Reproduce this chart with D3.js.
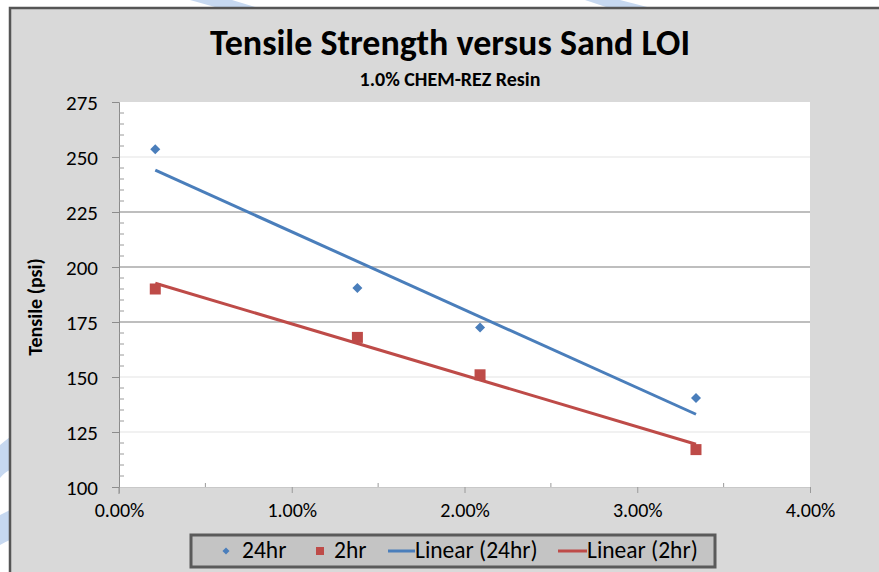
<!DOCTYPE html>
<html>
<head>
<meta charset="utf-8">
<script src="https://cdn.jsdelivr.net/npm/d3@7/dist/d3.min.js"></script>
<style>
  html, body { margin: 0; padding: 0; background: #ffffff; }
  svg { display: block; }
  text { font-family: Carlito, Calibri, Lato, "Open Sans", sans-serif; fill: #000; }
</style>
</head>
<body>
<svg id="chart" width="879" height="572"></svg>
<script>
// ---- data ----
const sandLOI = [0.0021, 0.0138, 0.0209, 0.0334];
const tensile24hr = [253.5, 190.5, 172.5, 140.5];
const tensile2hr = [190, 168, 151, 117];
const seriesNames = ["24hr", "2hr", "Linear (24hr)", "Linear (2hr)"];
const yTicks = [100, 125, 150, 175, 200, 225, 250, 275];
const xTicks = [0, 0.01, 0.02, 0.03, 0.04];
const titleText = "Tensile Strength versus Sand LOI";
const subtitleText = "1.0% CHEM-REZ Resin";
const yTitle = "Tensile (psi)";

const blue = "#4a7ebb", red = "#be4b48";
const FONT = "Carlito, Calibri, Lato, sans-serif";

const svg = d3.select("#chart");

// watermark decorations in white margins
const wm = svg.append("g").attr("fill", "#c6d8f0");
wm.append("path").attr("d", "M190,0 L232,0 L262,9 L222,9 Z");
wm.append("path").attr("d", "M585,0 L620,0 L655,9 L612,9 Z");
wm.append("path").attr("d", "M0,445 Q6,440 10,437 L10,470 Q5,472 0,478 Z");
wm.append("path").attr("d", "M0,515 Q6,512 10,510 L10,540 Q5,542 0,545 Z");

// chart panel
svg.append("rect").attr("x", 10).attr("y", 8).attr("width", 879).attr("height", 580)
  .attr("fill", "#d9d9d9");
svg.append("path").attr("d", "M10,590 L10,8 L879,8")
  .attr("fill", "none").attr("stroke", "#555").attr("stroke-width", 2.5);

const x = d3.scaleLinear().domain([0, 0.04]).range([119, 810]);
const y = d3.scaleLinear().domain([100, 275]).range([487, 102]);

// plot area
svg.append("rect").attr("x", x(0)).attr("y", y(275))
  .attr("width", x(0.04) - x(0)).attr("height", y(100) - y(275))
  .attr("fill", "#ffffff");

// gridlines
const darkGrid = new Set([175, 200, 225]);
svg.append("g").selectAll("line").data(yTicks.filter(v => v > 100 && v < 275)).join("line")
  .attr("x1", x(0)).attr("x2", x(0.04))
  .attr("y1", d => y(d)).attr("y2", d => y(d))
  .attr("stroke", d => darkGrid.has(d) ? "#a9a9a9" : "#ececec")
  .attr("stroke-width", 1.5);

// y axis
const yAxis = svg.append("g").attr("transform", `translate(${x(0)},0)`)
  .call(d3.axisLeft(y).tickValues(yTicks).tickSize(7).tickPadding(14));
yAxis.select(".domain").attr("stroke", "#8c8c8c");
yAxis.selectAll(".tick line").attr("stroke", "#8c8c8c");
yAxis.selectAll(".tick text").attr("font-size", 21).attr("font-family", FONT).attr("fill", "#000")
  .attr("dy", "0.34em");
// minor y ticks (inside)
const yMinor = d3.range(105, 275, 5).filter(v => v % 25 !== 0);
svg.append("g").selectAll("line").data(yMinor).join("line")
  .attr("x1", x(0)).attr("x2", x(0) + 5)
  .attr("y1", d => y(d)).attr("y2", d => y(d))
  .attr("stroke", "#9a9a9a");
svg.append("line").attr("x1", x(0)).attr("x2", x(0)).attr("y1", y(100)).attr("y2", y(100) + 7)
  .attr("stroke", "#8c8c8c");

// x axis
const xAxis = svg.append("g").attr("transform", `translate(0,${y(100)})`)
  .call(d3.axisBottom(x).tickValues(xTicks).tickSize(6).tickPadding(12)
    .tickFormat(d3.format(".2%")));
xAxis.select(".domain").attr("stroke", "#c8c8c8");
xAxis.selectAll(".tick line").attr("stroke", "#9a9a9a");
xAxis.selectAll(".tick text").attr("font-size", 20).attr("font-family", FONT).attr("fill", "#000")
  .attr("dy", "0.6em");
const xMinor = [0.005, 0.015, 0.025, 0.035];
svg.append("g").selectAll("line").data(xMinor).join("line")
  .attr("x1", d => x(d)).attr("x2", d => x(d))
  .attr("y1", y(100)).attr("y2", y(100) - 4)
  .attr("stroke", "#9a9a9a");

// linear fits
function fit(xs, ys) {
  const mx = d3.mean(xs), my = d3.mean(ys);
  const sxy = d3.sum(xs, (v, i) => (v - mx) * (ys[i] - my));
  const sxx = d3.sum(xs, v => (v - mx) * (v - mx));
  const b = sxy / sxx, a = my - b * mx;
  const x0 = d3.min(xs), x1 = d3.max(xs);
  return [[x0, a + b * x0], [x1, a + b * x1]];
}
const line = d3.line().x(d => x(d[0])).y(d => y(d[1]));
svg.append("path").attr("d", line(fit(sandLOI, tensile24hr)))
  .attr("stroke", blue).attr("stroke-width", 3).attr("fill", "none");
svg.append("path").attr("d", line(fit(sandLOI, tensile2hr)))
  .attr("stroke", red).attr("stroke-width", 3).attr("fill", "none");

// markers
const diamond = d3.symbol().type(d3.symbolDiamond2).size(64);
svg.append("g").selectAll("path").data(sandLOI).join("path")
  .attr("d", diamond)
  .attr("transform", (d, i) => `translate(${x(d)},${y(tensile24hr[i])})`)
  .attr("fill", blue);
svg.append("g").selectAll("rect").data(sandLOI).join("rect")
  .attr("x", d => x(d) - 5.5).attr("y", (d, i) => y(tensile2hr[i]) - 5.5)
  .attr("width", 11).attr("height", 11)
  .attr("fill", red);

// titles
svg.append("text").attr("x", 450).attr("y", 55).attr("text-anchor", "middle")
  .attr("font-size", 36).attr("font-weight", "bold").text(titleText);
svg.append("text").attr("x", 450).attr("y", 86).attr("text-anchor", "middle")
  .attr("font-size", 20).attr("font-weight", "bold").text(subtitleText);
svg.append("text").attr("transform", "translate(42,307) rotate(-90)")
  .attr("text-anchor", "middle").attr("font-size", 20).attr("font-weight", "bold")
  .text(yTitle);

// legend
const lg = svg.append("g");
lg.append("rect").attr("x", 191).attr("y", 535).attr("width", 524).attr("height", 32)
  .attr("fill", "#c4c4c4").attr("stroke", "#5a5a5a").attr("stroke-width", 3);
const ly = 551, lfs = 23.5;
lg.append("path").attr("d", d3.symbol().type(d3.symbolDiamond2).size(32))
  .attr("transform", `translate(226,${ly})`).attr("fill", blue);
lg.append("text").attr("x", 242).attr("y", ly + 7).attr("font-size", lfs).text(seriesNames[0]);
lg.append("rect").attr("x", 316).attr("y", ly - 4).attr("width", 8).attr("height", 8).attr("fill", red);
lg.append("text").attr("x", 334).attr("y", ly + 7).attr("font-size", lfs).text(seriesNames[1]);
lg.append("line").attr("x1", 388).attr("x2", 415).attr("y1", ly).attr("y2", ly)
  .attr("stroke", blue).attr("stroke-width", 3);
lg.append("text").attr("x", 415).attr("y", ly + 7).attr("font-size", lfs).text(seriesNames[2]);
lg.append("line").attr("x1", 558).attr("x2", 587).attr("y1", ly).attr("y2", ly)
  .attr("stroke", red).attr("stroke-width", 3);
lg.append("text").attr("x", 587).attr("y", ly + 7).attr("font-size", lfs).text(seriesNames[3]);
</script>
</body>
</html>
